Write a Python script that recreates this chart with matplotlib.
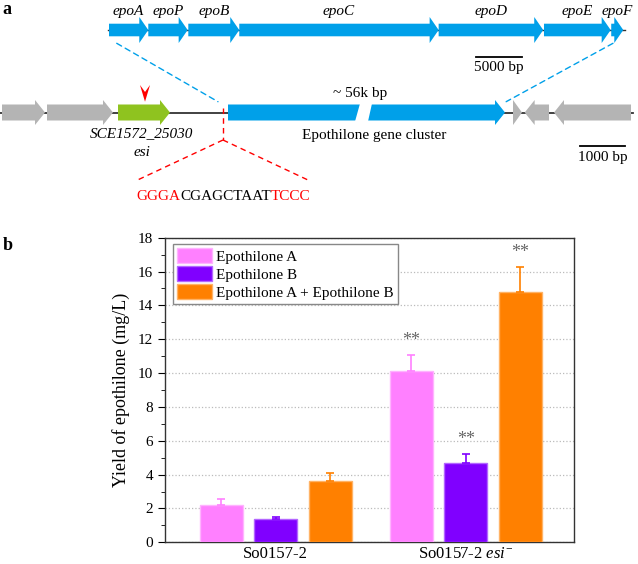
import matplotlib
matplotlib.use('Agg')
import matplotlib.pyplot as plt
from matplotlib.patches import Polygon, ConnectionPatch
import numpy as np

plt.rcParams['font.family'] = 'Liberation Serif'
plt.rcParams['mathtext.fontset'] = 'custom'
plt.rcParams['mathtext.rm'] = 'Liberation Serif'
plt.rcParams['mathtext.it'] = 'Liberation Serif:italic'

# ---- panel a data (kb) ----
top_names = ['epoA', 'epoP', 'epoB', 'epoC', 'epoD', 'epoE', 'epoF']
top_start = [0.0, 4.27, 8.62, 14.16, 35.83, 47.28, 54.59]
top_end = [4.27, 8.55, 14.16, 35.83, 47.20, 54.53, 55.90]

bot_start = [0.044, 1.031, 2.588, 5.00, 11.25, 11.506, 12.149]
bot_end = [0.987, 2.478, 3.728, 11.075, 11.447, 12.04, 13.838]
bot_dir = [1, 1, 1, 1, 1, -1, -1]
bot_kind = ['other', 'other', 'esi', 'epo', 'other', 'other', 'other']
insert_kb = 4.89
sequence = [('GGGA', 'red'), ('CGAGCTAAT', 'black'), ('TCCC', 'red')]

# ---- panel b data ----
strains = ['So0157-2', r'So0157-2 $\mathit{esi}^{-}$']
series = ['Epothilone A', 'Epothilone B', 'Epothilone A + Epothilone B']
yields = [[2.2, 10.1], [1.38, 4.7], [3.6, 14.8]]
errors = [[0.37, 0.95], [0.1, 0.5], [0.47, 1.45]]
signif = [[False, True], [False, True], [False, True]]

colors = ['#FF80FF', '#8000FF', '#FF8000']
edges = ['#FFB3FF', '#B366FF', '#FFB366']
kind_color = {'other': '#B4B4B4', 'esi': '#8FC31F', 'epo': '#00A0E9'}

W, H = 638, 564
fig = plt.figure(figsize=(W / 100, H / 100), dpi=100)

# panel a axes (y in px from top of the panel)
pa_h = 215
ax_top = fig.add_axes([0, 1 - pa_h / H, 1, pa_h / H])
ax_bot = fig.add_axes([0, 1 - pa_h / H, 1, pa_h / H])
top_scale = 9.2   # px per kb
bot_scale = 45.6
ax_top.set_xlim(-109 / top_scale, (W - 109) / top_scale)
ax_bot.set_xlim(0, W / bot_scale)
for a in (ax_top, ax_bot):
    a.set_ylim(pa_h, 0)
    a.axis('off')
    a.patch.set_alpha(0)


def gene(ax, s, e, d, yc, hb, hh, head, color):
    L = min(head, e - s)
    if d > 0:
        pts = [(s, yc - hb), (e - L, yc - hb), (e - L, yc - hh), (e, yc),
               (e - L, yc + hh), (e - L, yc + hb), (s, yc + hb)]
    else:
        pts = [(e, yc - hb), (s + L, yc - hb), (s + L, yc - hh), (s, yc),
               (s + L, yc + hh), (s + L, yc + hb), (e, yc + hb)]
    ax.add_patch(Polygon(pts, closed=True, fc=color, ec='none', zorder=3))


# top row
ty = 30
ax_top.plot([-0.1, 56.05], [ty, ty], color='#333333', lw=1, zorder=1)
for n, s, e in zip(top_names, top_start, top_end):
    gene(ax_top, s, e, 1, ty, 6.3, 13, 9 / top_scale, kind_color['epo'])
    ax_top.text((s + e) / 2, 11, n, style='italic', fontsize=11,
                ha='center', va='center')
ax_top.plot([39.9, 44.9], [57, 57], color='black', lw=1.3)
ax_top.text(42.4, 67, '5000 bp', fontsize=11, ha='center', va='center')

# bottom row
by = 112.5
ax_bot.plot([0, 13.88], [by, by], color='#333333', lw=1.3, zorder=1)
for s, e, d, k in zip(bot_start, bot_end, bot_dir, bot_kind):
    gene(ax_bot, s, e, d, by, 8, 12.5, 10 / bot_scale, kind_color[k])
# break in the cluster
ax_bot.add_patch(Polygon([(7.785, 121.5), (8.07, 121.5), (8.158, 103.5), (7.895, 103.5)],
                         closed=True, fc='white', ec='none', zorder=4))
# red insertion marker
ax_bot.add_patch(Polygon([(3.07, 85), (3.18, 92), (3.29, 85), (3.18, 101.7)],
                         closed=True, fc='#FF0000', ec='none', zorder=4))
ax_bot.text(3.11, 134, 'SCE1572_25030', style='italic', fontsize=11, ha='center', va='center')
ax_bot.text(3.11, 153, 'esi', style='italic', fontsize=11, ha='center', va='center')
ax_bot.text(7.9, 93, '~ 56k bp', fontsize=11, ha='center', va='center')
ax_bot.text(8.2, 135, 'Epothilone gene cluster', fontsize=11, ha='center', va='center')
ax_bot.plot([12.71, 13.71], [146, 146], color='black', lw=1.3)
ax_bot.text(13.21, 157, '1000 bp', fontsize=11, ha='center', va='center')

# red dashed lines to the sequence
rd = dict(color='#FF0000', lw=1, ls=(0, (4, 3)), zorder=5)
ax_bot.plot([insert_kb, insert_kb], [108, 140], **rd)
ax_bot.plot([insert_kb, 2.97], [140, 181], **rd)
ax_bot.plot([insert_kb, 6.8], [140, 181], **rd)

# blue dashed connections
for xa, xb in [(0.84, 4.78), (54.78, 11.10)]:
    con = ConnectionPatch(xyA=(xa, 43.3), coordsA=ax_top.transData,
                          xyB=(xb, 101.7), coordsB=ax_bot.transData,
                          color='#00A0E9', lw=1, ls=(0, (4, 3)))
    fig.add_artist(con)

# sequence text, pieces placed one after another
fig.canvas.draw()
r = fig.canvas.get_renderer()
x0 = 2.98
for txt, c in sequence:
    t = ax_bot.text(x0, 196, txt, color=c, fontsize=11, ha='left', va='center')
    bb = t.get_window_extent(renderer=r)
    x0 = ax_bot.transData.inverted().transform((bb.x1, bb.y0))[0]

fig.text(0.004, 0.999, 'a', fontsize=13, fontweight='bold', va='top')
fig.text(0.004, 1 - 237 / H, 'b', fontsize=13, fontweight='bold', va='top')

# ---- panel b ----
ax = fig.add_axes([165 / W, (H - 542.3) / H, 409 / W, 304.6 / H])
x = np.arange(len(strains))
offs = [-0.2866, 0, 0.2866]
for i in range(3):
    ax.bar(x + offs[i], yields[i], 0.227, color=colors[i], edgecolor=edges[i],
           lw=1, label=series[i], zorder=3)
    ax.errorbar(x + offs[i], yields[i], yerr=[np.zeros(2), errors[i]], fmt='none',
                ecolor=colors[i], elinewidth=1.2, capsize=3, capthick=1.2, zorder=4)
    for j in range(2):
        if signif[i][j]:
            ax.text(x[j] + offs[i], yields[i][j] + errors[i][j] + 0.4, '**',
                    color='#666666', fontsize=13, ha='center', va='bottom')

ax.set_xlim(-0.583, 1.570)
ax.set_ylim(0, 18)
ax.set_yticks(np.arange(0, 19, 2))
ax.set_yticks(np.arange(1, 18, 2), minor=True)
ax.set_xticks(x)
ax.set_xticklabels(strains, fontsize=12)
ax.tick_params(axis='x', length=0, pad=3)
ax.tick_params(axis='y', which='major', length=5, labelsize=11, direction='out')
ax.tick_params(axis='y', which='minor', length=3, direction='out')
ax.set_ylabel('Yield of epothilone (mg/L)', fontsize=13, labelpad=6)
ax.yaxis.grid(True, ls=':', color='#BBBBBB', lw=0.9, zorder=0)
for sp in ax.spines.values():
    sp.set_color('#333333')
    sp.set_linewidth(1)
leg = ax.legend(loc='upper left', bbox_to_anchor=(0.019, 0.978), borderaxespad=0,
                fontsize=11, handlelength=2.3, handleheight=1.15, labelspacing=0.15,
                handletextpad=0.3, borderpad=0.25, fancybox=False, framealpha=1)
leg.get_frame().set_edgecolor('#888888')
leg.get_frame().set_linewidth(1)

fig.savefig('out.png', dpi=100)
